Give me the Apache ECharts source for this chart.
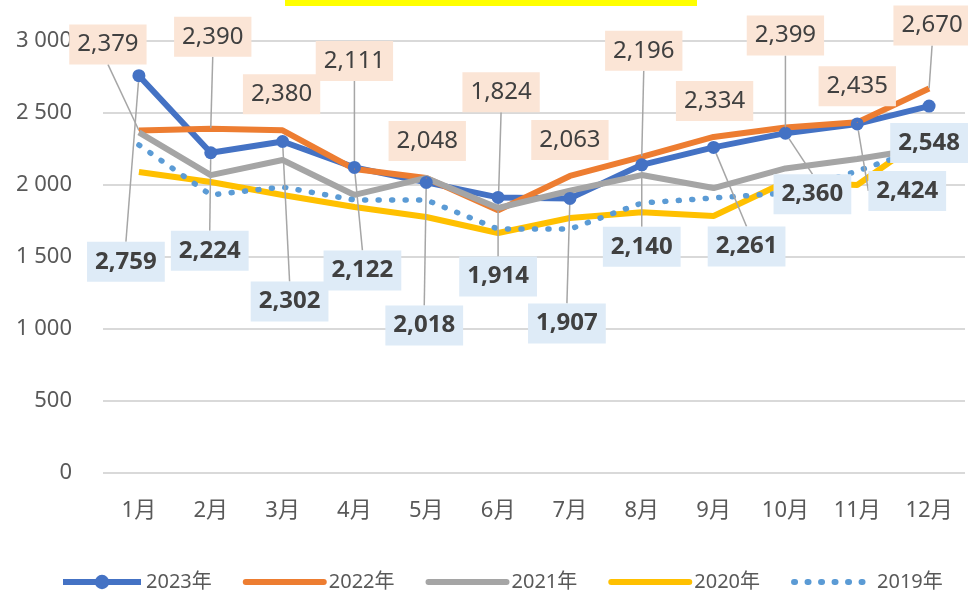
<!DOCTYPE html>
<html><head><meta charset="utf-8">
<script src="https://cdn.jsdelivr.net/npm/echarts/dist/echarts.min.js"></script>
<style>html,body{margin:0;padding:0;background:#fff}#c{width:968px;height:590px}</style>
</head><body><div id="c"></div>
<script>
// ---- data ----
const months = ['1月','2月','3月','4月','5月','6月','7月','8月','9月','10月','11月','12月'];
const names = ['2023年','2022年','2021年','2020年','2019年'];
const y2023 = [2759, 2224, 2302, 2122, 2018, 1914, 1907, 2140, 2261, 2360, 2424, 2548];
const y2022 = [2379, 2390, 2380, 2111, 2048, 1824, 2063, 2196, 2334, 2399, 2435, 2670];
const y2021 = [2365, 2069, 2174, 1931, 2049, 1840, 1960, 2069, 1979, 2115, 2180, 2260];
const y2020 = [2090, 2021, 1931, 1847, 1778, 1667, 1771, 1810, 1785, 2021, 2000, 2350];
const y2019 = [2278, 1931, 1986, 1896, 1896, 1694, 1694, 1875, 1910, 1944, 2097, 2270];
const yMin = 0, yMax = 3000, yStep = 500;

// ---- label placement (pixel offsets from each point, style only) ----
const off2022 = [[-31,-86],[2,-92],[-1,-36],[0,-108],[1,-37],[3,-118],[0,-36],[2,-106],[1,-36],[0,-92],[0,-36],[3,-63]];
const off2023 = [[-13,186],[-1,98],[7,160],[8,103],[-2,143],[0,79],[-3,125],[0,82],[33,99],[27,61],[50,67],[0,37]];

const FONT = "'Noto Sans', 'Noto Sans CJK JP', sans-serif";
const fmt = v => Number(v).toLocaleString('en-US');
const gray = '#A6A6A6';
const colors = ['#4472C4', '#ED7D31', '#A5A5A5', '#FFC000', '#5B9BD5'];

function withLeader(vals, offs) {
  return vals.map((v, i) => ({
    value: v,
    labelLine: { show: Math.abs(offs[i][1]) > 50 || Math.abs(offs[i][0]) > 30 }
  }));
}

const chart = echarts.init(document.getElementById('c'), null, { renderer: 'canvas' });
const labelBase = {
  show: true, position: 'inside', fontFamily: FONT, fontSize: 24, lineHeight: 28,
  color: '#404040', padding: [6, 8], formatter: p => fmt(p.value)
};
chart.setOption({
  animation: false,
  backgroundColor: '#fff',
  graphic: [{ type: 'rect', shape: { x: 285, y: 0, width: 412, height: 6 }, style: { fill: '#FFFF00' }, silent: true }],
  grid: { left: 103, right: 3, top: 41, bottom: 117, containLabel: false },
  xAxis: {
    type: 'category', data: months, boundaryGap: true,
    axisLine: { show: false }, axisTick: { show: false },
    axisLabel: { color: '#595959', fontFamily: FONT, fontSize: 22, margin: 27 }
  },
  yAxis: {
    type: 'value', min: yMin, max: yMax, interval: yStep,
    axisLine: { show: false }, axisTick: { show: false },
    splitLine: { lineStyle: { color: '#D9D9D9', width: 2 } },
    axisLabel: { color: '#595959', fontFamily: FONT, fontSize: 22, margin: 31,
      formatter: v => String(v).replace(/\B(?=(\d{3})+(?!\d))/g, ' ') }
  },
  legend: {
    left: 55, top: 567, width: 910, itemWidth: 78, itemHeight: 18, itemGap: 31,
    textStyle: { color: '#595959', fontFamily: FONT, fontSize: 20 },
    data: [
      { name: names[0], lineStyle: { width: 6, color: colors[0] } },
      { name: names[1], itemStyle: { opacity: 0 }, lineStyle: { width: 6, color: colors[1], cap: 'round' } },
      { name: names[2], itemStyle: { opacity: 0 }, lineStyle: { width: 6, color: colors[2], cap: 'round' } },
      { name: names[3], itemStyle: { opacity: 0 }, lineStyle: { width: 6, color: colors[3], cap: 'round' } },
      { name: names[4], itemStyle: { opacity: 0 }, lineStyle: { width: 6, color: colors[4], type: [1, 12.5], cap: 'round' } }
    ]
  },
  series: [
    {
      name: names[0], type: 'line', data: withLeader(y2023, off2023),
      symbol: 'circle', symbolSize: 13, showSymbol: true,
      lineStyle: { color: colors[0], width: 6 }, itemStyle: { color: colors[0] },
      label: Object.assign({}, labelBase, { backgroundColor: '#DEEBF7', fontWeight: 'bold' }),
      labelLine: { lineStyle: { color: gray, width: 1.5 } },
      labelLayout: p => ({ dx: off2023[p.dataIndex][0], dy: off2023[p.dataIndex][1] }),
      emphasis: { disabled: true }, z: 2
    },
    {
      name: names[1], type: 'line', data: withLeader(y2022, off2022),
      symbol: 'circle', symbolSize: 1, showSymbol: true,
      lineStyle: { color: colors[1], width: 6 }, itemStyle: { color: colors[1] },
      label: Object.assign({}, labelBase, { backgroundColor: '#FBE5D6' }),
      labelLine: { lineStyle: { color: gray, width: 1.5 } },
      labelLayout: p => ({ dx: off2022[p.dataIndex][0], dy: off2022[p.dataIndex][1] }),
      emphasis: { disabled: true }, z: 2
    },
    {
      name: names[2], type: 'line', data: y2021, symbol: 'none',
      lineStyle: { color: colors[2], width: 6 }, itemStyle: { color: colors[2] },
      emphasis: { disabled: true }, z: 2
    },
    {
      name: names[3], type: 'line', data: y2020, symbol: 'none',
      lineStyle: { color: colors[3], width: 6 }, itemStyle: { color: colors[3] },
      emphasis: { disabled: true }, z: 2
    },
    {
      name: names[4], type: 'line', data: y2019, symbol: 'none',
      lineStyle: { color: colors[4], width: 5.5, type: [1, 12.5], cap: 'round' }, itemStyle: { color: colors[4] },
      emphasis: { disabled: true }, z: 2
    }
  ]
});
</script></body></html>
